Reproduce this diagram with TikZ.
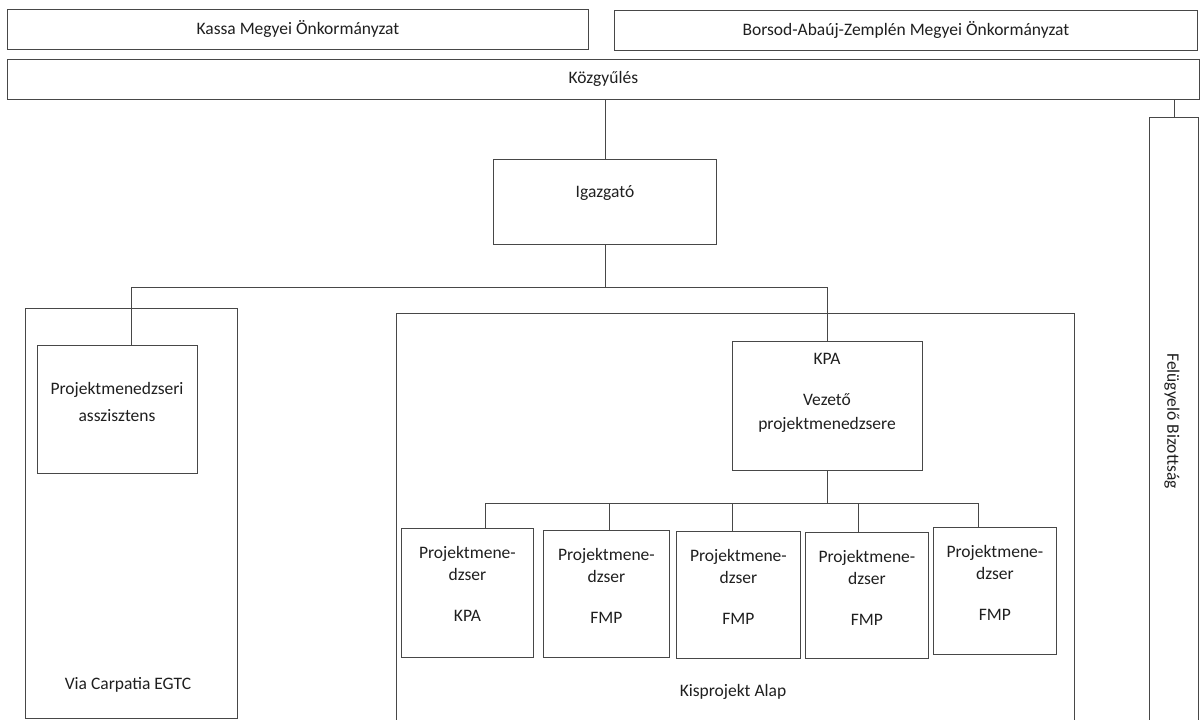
\documentclass[tikz,border=0pt]{standalone}
\usepackage{fontspec}
\setmainfont{Carlito}
\begin{document}
\begin{tikzpicture}[x=1pt,y=-1pt,
  box/.style={draw=black!72, line width=0.8pt, rectangle, inner sep=0pt, anchor=north west},
  conn/.style={draw=black!72, line width=0.8pt},
  txt/.style={font=\fontsize{17.5}{22}\selectfont, inner sep=0pt, text=black!88, align=center}]
\useasboundingbox (0,0) rectangle (1200,720);
% boxes
\node[box, minimum width=581pt, minimum height=40pt] (kassa) at (7,9) {};
\node[box, minimum width=583pt, minimum height=40pt] (borsod) at (614,10) {};
\node[box, minimum width=1192pt, minimum height=40pt] (kozgy) at (7,59) {};
\node[box, minimum width=223pt, minimum height=85pt] (igaz) at (493,159) {};
\node[box, minimum width=212pt, minimum height=410pt] (via) at (25,308) {};
\node[box, minimum width=160pt, minimum height=128pt] (assz) at (37,345) {};
\node[box, minimum width=678pt, minimum height=412pt] (kis) at (396,313) {};
\node[box, minimum width=49pt, minimum height=610pt] (fel) at (1149,117) {};
\node[box, minimum width=190pt, minimum height=129pt] (kpa) at (732,341) {};
\node[box, minimum width=132pt, minimum height=129pt] (c1) at (401,528) {};
\node[box, minimum width=126pt, minimum height=127pt] (c2) at (543,530) {};
\node[box, minimum width=124pt, minimum height=127pt] (c3) at (676,531) {};
\node[box, minimum width=123pt, minimum height=126pt] (c4) at (805,532) {};
\node[box, minimum width=123pt, minimum height=127pt] (c5) at (933,527) {};
% connectors
\draw[conn] (igaz.north |- kozgy.south) -- (igaz.north);
\draw[conn] (fel.north |- kozgy.south) -- (fel.north);
\coordinate (b1) at (0,287);
\draw[conn] (igaz.south) -- (igaz.south |- b1);
\draw[conn] (via.north |- b1) -- (kpa.north |- b1);
\draw[conn] (via.north |- b1) -- (via.north |- assz.north);
\draw[conn] (kpa.north |- b1) -- (kpa.north);
\coordinate (k1) at (485,503);
\coordinate (k2) at (609,503);
\coordinate (k3) at (732,503);
\coordinate (k4) at (858,503);
\coordinate (k5) at (978,503);
\draw[conn] (kpa.south) -- (kpa.south |- k1);
\draw[conn] (k1) -- (k5);
\draw[conn] (k1) -- (k1 |- c1.north);
\draw[conn] (k2) -- (k2 |- c2.north);
\draw[conn] (k3) -- (k3 |- c3.north);
\draw[conn] (k4) -- (k4 |- c4.north);
\draw[conn] (k5) -- (k5 |- c5.north);
% texts
\node[txt] (kassaT) at (kassa.center) {Kassa Megyei Önkormányzat};
\node[txt] (borsodT) at (borsod.center) {Borsod-Abaúj-Zemplén Megyei Önkormányzat};
\node[txt] (kozgyT) at (kozgy.center) {Közgyűlés};
\node[txt] (igazT) at (605,193) {Igazgató};
\node[txt, font=\fontsize{17.5}{27}\selectfont] (asszT) at (117,402) {Projektmenedzseri\\asszisztens};
\node[txt] (viaT) at (128,685) {Via Carpatia EGTC};
\node[txt] (kpaT1) at (827,359) {KPA};
\node[txt, font=\fontsize{17.5}{24}\selectfont] (kpaT2) at (827,413) {Vezető\\projektmenedzsere};
\node[txt] (kisT) at (733,692) {Kisprojekt Alap};
\node[txt, rotate=-90] (felT) at (1172,421) {Felügyelő Bizottság};
\foreach \c/\l in {c1/KPA,c2/FMP,c3/FMP,c4/FMP,c5/FMP}{
  \node[txt] (\c T) at ([yshift=-35.5pt]\c.north) {Projektmene-\\dzser};
  \node[txt] (\c L) at ([yshift=-88pt]\c.north) {\l};
}
\end{tikzpicture}
\end{document}
